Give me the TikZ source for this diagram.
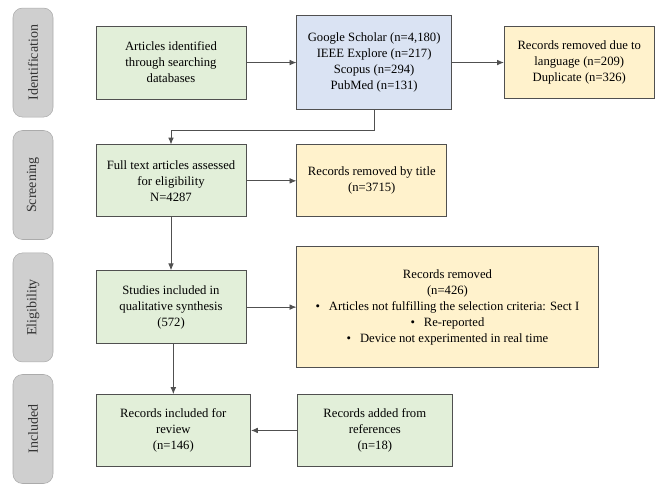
\documentclass[tikz,border=0pt]{standalone}
\usepackage{fontspec}
\setmainfont{Liberation Serif}
\usepackage{tikz}
\usetikzlibrary{positioning,arrows.meta}
\usepackage{xcolor}
\definecolor{boxgreen}{HTML}{E2EFD9}
\definecolor{boxblue}{HTML}{DAE3F3}
\definecolor{boxorange}{HTML}{FFF2CC}
\definecolor{stagegray}{HTML}{CFCFCF}
\definecolor{stageedge}{HTML}{ABABAB}
\definecolor{edgegray}{HTML}{505050}

\begin{document}
\begin{tikzpicture}[
  box/.style={draw=edgegray, semithick, minimum width=112.5pt,
              minimum height=54pt, align=center,
              font=\fontsize{9.5}{12}\selectfont, inner sep=2pt},
  green/.style={box, fill=boxgreen},
  blue/.style={box, fill=boxblue},
  orange/.style={box, fill=boxorange},
  stage/.style={draw=stageedge, fill=stagegray, rounded corners=2.5mm,
                minimum width=30pt, minimum height=81.75pt, text=black!80,
                font=\fontsize{10.5}{13}\selectfont},
  arr/.style={-{Latex[length=1.8mm,width=1.5mm]}, edgegray, semithick},
  ]
  \useasboundingbox (0,0) rectangle (492.75pt,-362.25pt);

  % stages on the left
  \node[stage] (idf) at (24.75pt,-46.9pt) {\rotatebox{90}{Identification}};
  \node[stage] (scr) at (24.75pt,-138.75pt) {\rotatebox{90}{Screening}};
  \node[stage] (elg) at (24.75pt,-230.6pt) {\rotatebox{90}{Eligibility}};
  \node[stage] (inc) at (24.75pt,-321.75pt) {\rotatebox{90}{Included}};

  \node[green, minimum height=54.75pt] (art) at (128.25pt,-46.9pt)
       {Articles identified\\through searching\\databases};
  \node[blue, right=37.5pt of art, minimum width=116pt, minimum height=70pt] (db)
       {Google Scholar (n=4,180)\\IEEE Explore (n=217)\\Scopus (n=294)\\PubMed (n=131)};
  \node[orange, right=39pt of db] (lang)
       {Records removed due to\\language (n=209)\\Duplicate (n=326)};
  \node[green, below=33.75pt of art] (full)
       {Full text articles assessed\\for eligibility\\N=4287};
  \node[orange, right=37.5pt of full] (title)
       {Records removed by title\\(n=3715)};
  \node[green, below=39.75pt of full, minimum height=54.75pt] (qual)
       {Studies included in\\qualitative synthesis\\(572)};
  \node[orange, right=37.5pt of qual, minimum width=226pt, minimum height=91pt] (rem)
       {Records removed\\(n=426)\\
        \textbullet\hspace{0.7em}Articles not fulfilling the selection criteria: Sect I\\
        \textbullet\hspace{0.7em}Re-reported\\
        \textbullet\hspace{0.7em}Device not experimented in real time};
  \node[green, below=37.5pt of qual.south west, anchor=north west,
        minimum width=116pt] (rev)
       {Records included for\\review\\(n=146)};
  \node[green, right=34.5pt of rev, minimum width=116pt] (refs)
       {Records added from\\references\\(n=18)};

  \draw[arr] (art) -- (db);
  \draw[arr] (db) -- (lang);
  \draw[arr] (db.south) -- ++(0,-15.75pt) -| (full.north);
  \draw[arr] (full) -- (title);
  \draw[arr] (full) -- (qual);
  \draw[arr] (qual) -- (rem);
  \draw[arr] (qual.south -| rev.north) -- (rev.north);
  \draw[arr] (refs) -- (rev);
\end{tikzpicture}
\end{document}
